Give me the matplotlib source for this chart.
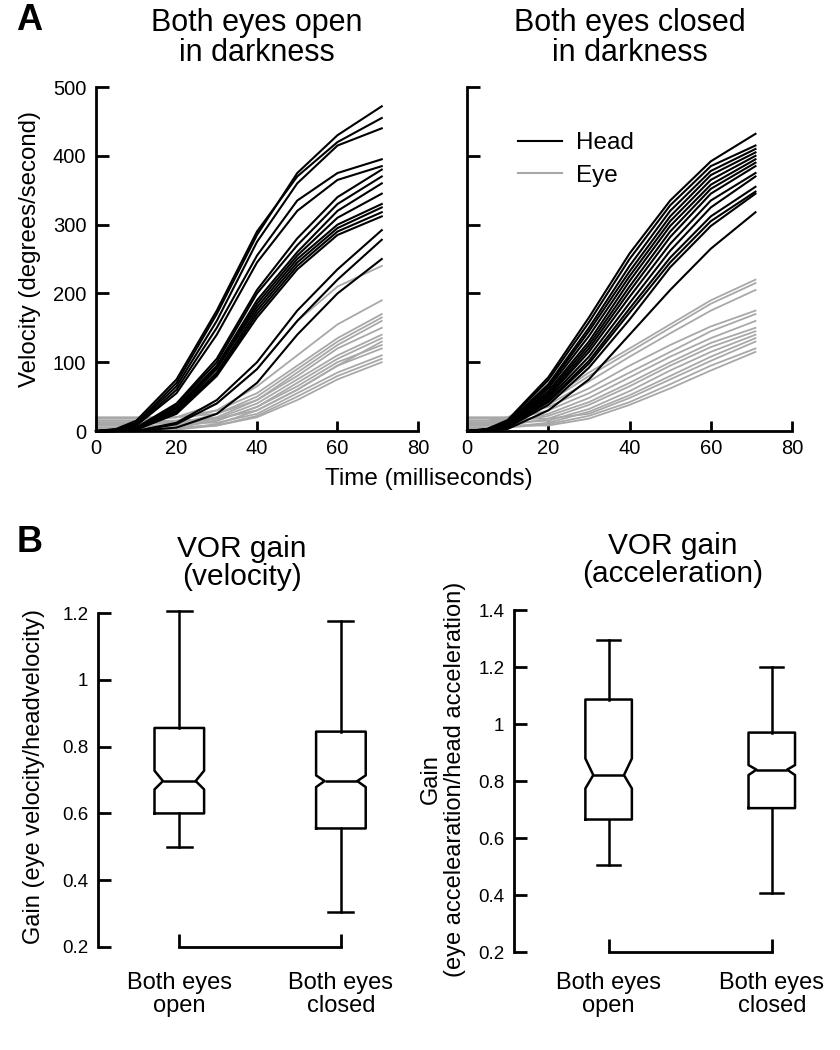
import numpy as np
import matplotlib.pyplot as plt

plt.rcParams['font.family'] = ['Liberation Sans', 'DejaVu Sans']

# time samples (ms)
t_ms = [0, 5, 10, 20, 30, 40, 50, 60, 71]

# head velocity traces, eyes open (deg/s)
head_open = [
    [0, 2, 12, 70, 170, 285, 375, 430, 472],
    [0, 3, 15, 75, 175, 290, 370, 420, 455],
    [0, 2, 10, 65, 160, 275, 360, 415, 440],
    [0, 1, 8, 60, 150, 255, 335, 375, 395],
    [0, 1, 8, 55, 140, 245, 320, 365, 385],
    [0, 0, 5, 40, 105, 205, 280, 340, 380],
    [0, 0, 4, 38, 100, 200, 270, 330, 370],
    [0, 0, 4, 35, 95, 190, 260, 320, 360],
    [0, 0, 3, 33, 92, 185, 255, 310, 345],
    [0, 0, 3, 30, 90, 180, 250, 300, 330],
    [0, 0, 2, 28, 85, 175, 245, 295, 325],
    [0, 0, 2, 27, 82, 170, 240, 290, 318],
    [0, 0, 2, 25, 80, 165, 235, 285, 312],
    [0, 0, 0, 12, 45, 100, 175, 235, 292],
    [0, 0, 0, 10, 40, 90, 160, 220, 278],
    [0, 0, 0, 5, 25, 70, 140, 200, 250],
]

# eye velocity traces, eyes open
eye_open = [
    [15, 15, 15, 20, 40, 90, 160, 210, 240],
    [10, 10, 12, 15, 30, 65, 110, 155, 190],
    [18, 18, 18, 20, 30, 55, 95, 135, 170],
    [5, 5, 5, 10, 25, 50, 90, 130, 165],
    [10, 10, 10, 12, 20, 45, 85, 125, 160],
    [20, 20, 20, 20, 25, 45, 80, 120, 150],
    [5, 5, 5, 8, 18, 40, 75, 110, 140],
    [2, 2, 3, 5, 15, 35, 70, 105, 135],
    [8, 8, 8, 8, 15, 35, 65, 100, 125],
    [0, 0, 0, 3, 10, 30, 60, 95, 120],
    [12, 12, 12, 12, 12, 25, 55, 85, 110],
    [0, 0, 0, 2, 8, 22, 50, 80, 105],
    [5, 5, 5, 5, 8, 20, 45, 75, 100],
    [15, 15, 15, 15, 18, 30, 60, 95, 130],
]

# head velocity traces, eyes closed
head_closed = [
    [0, 3, 16, 78, 165, 258, 335, 392, 432],
    [0, 3, 14, 74, 158, 250, 328, 385, 415],
    [0, 2, 12, 68, 150, 240, 320, 378, 410],
    [0, 2, 12, 65, 145, 232, 312, 372, 405],
    [0, 2, 10, 62, 138, 225, 305, 365, 400],
    [0, 2, 10, 58, 130, 218, 298, 358, 395],
    [0, 1, 9, 55, 125, 210, 290, 352, 390],
    [0, 1, 8, 52, 120, 203, 282, 345, 385],
    [0, 1, 8, 50, 115, 195, 272, 335, 375],
    [0, 1, 7, 47, 108, 186, 262, 325, 370],
    [0, 1, 6, 44, 102, 178, 252, 312, 355],
    [0, 1, 6, 42, 98, 172, 245, 305, 348],
    [0, 0, 5, 38, 92, 162, 238, 298, 345],
    [0, 0, 3, 30, 75, 140, 205, 265, 318],
]

# eye velocity traces, eyes closed
eye_closed = [
    [15, 15, 20, 45, 85, 120, 155, 190, 220],
    [10, 12, 18, 42, 80, 115, 150, 185, 215],
    [12, 12, 15, 38, 72, 108, 142, 175, 205],
    [20, 20, 20, 35, 62, 95, 125, 152, 175],
    [15, 15, 15, 30, 55, 85, 115, 145, 170],
    [8, 8, 10, 25, 48, 78, 108, 135, 160],
    [10, 10, 12, 22, 42, 70, 100, 128, 150],
    [5, 5, 8, 18, 38, 65, 95, 122, 145],
    [12, 12, 12, 15, 32, 58, 88, 115, 140],
    [5, 5, 6, 12, 28, 52, 80, 108, 135],
    [18, 18, 18, 18, 25, 48, 75, 102, 130],
    [3, 3, 5, 10, 22, 42, 68, 95, 120],
    [8, 8, 8, 8, 18, 38, 62, 88, 115],
]

# box plot summaries: [eyes open, eyes closed]
conditions = ['Both eyes\nopen', 'Both eyes\nclosed']
vel_whislo = [0.50, 0.305]
vel_q1 = [0.60, 0.555]
vel_med = [0.697, 0.697]
vel_q3 = [0.856, 0.845]
vel_whishi = [1.205, 1.175]
vel_cilo = [0.672, 0.679]
vel_cihi = [0.728, 0.714]

acc_whislo = [0.504, 0.408]
acc_q1 = [0.665, 0.705]
acc_med = [0.821, 0.840]
acc_q3 = [1.086, 0.970]
acc_whishi = [1.295, 1.201]
acc_cilo = [0.774, 0.821]
acc_cihi = [0.879, 0.856]

gray = '#a8a8a8'
lw_ax = 2.0

fig = plt.figure(figsize=(8.4, 10.5), dpi=100)

def style_axes(ax, lsize):
    for s in ['top', 'right']:
        ax.spines[s].set_visible(False)
    for s in ['left', 'bottom']:
        ax.spines[s].set_linewidth(lw_ax)
    ax.tick_params(direction='in', width=lw_ax, labelsize=lsize, pad=7)

############# A: velocity traces #########################
axA1 = fig.add_axes([0.1143, 0.5895, 0.3833, 0.3276])
axA2 = fig.add_axes([0.5560, 0.5895, 0.3869, 0.3276])

for ax, heads, eyes, title in [(axA1, head_open, eye_open, 'Both eyes open\nin darkness'),
                               (axA2, head_closed, eye_closed, 'Both eyes closed\nin darkness')]:
    for e in eyes:
        ax.plot(t_ms, e, color=gray, lw=1.3, clip_on=False)
    for h in heads:
        ax.plot(t_ms, h, color='black', lw=1.5, clip_on=False)
    style_axes(ax, 14.5)
    ax.set_xlim(0, 80)
    ax.set_ylim(0, 500)
    ax.set_xticks([0, 20, 40, 60, 80])
    ax.set_yticks([0, 100, 200, 300, 400, 500])
    ax.tick_params(axis='y', length=9.5)
    ax.tick_params(axis='x', length=7.5, pad=6)
    ax.set_title(title, fontsize=22, pad=19, linespacing=1.0)

axA2.set_yticklabels([])

axA2.plot([], [], color='black', lw=1.5, label='Head')
axA2.plot([], [], color=gray, lw=1.5, label='Eye')
axA2.legend(loc='upper left', bbox_to_anchor=(0.157, 0.868), frameon=False,
            fontsize=17.5, handlelength=1.8, handletextpad=0.6, labelspacing=0.42,
            borderpad=0, borderaxespad=0)

fig.text(0.036, 0.763, 'Velocity (degrees/second)', rotation=90, ha='center',
         va='center', fontsize=17.3)
fig.text(0.510, 0.5385, 'Time (milliseconds)', ha='center', va='baseline', fontsize=17.5)
fig.text(0.019, 0.971, 'A', fontsize=26, fontweight='bold', va='baseline')

############# B: VOR gain boxes #########################
def make_stats(whislo, q1, med, q3, whishi, cilo, cihi):
    stats = []
    for i in range(len(med)):
        stats.append(dict(whislo=whislo[i], q1=q1[i], med=med[i], q3=q3[i],
                          whishi=whishi[i], cilo=cilo[i], cihi=cihi[i], fliers=[]))
    return stats

axB1 = fig.add_axes([0.1167, 0.0981, 0.343, 0.318])
axB2 = fig.add_axes([0.6119, 0.0933, 0.3768, 0.3257])

box_specs = [
    (axB1, make_stats(vel_whislo, vel_q1, vel_med, vel_q3, vel_whishi, vel_cilo, vel_cihi),
     (0.497, 2.28), (0.2, 1.2), [0.2, 0.4, 0.6, 0.8, 1.0, 1.2],
     ['0.2', '0.4', '0.6', '0.8', '1', '1.2'], 'VOR gain\n(velocity)', 0.307, 18),
    (axB2, make_stats(acc_whislo, acc_q1, acc_med, acc_q3, acc_whishi, acc_cilo, acc_cihi),
     (0.42, 2.36), (0.2, 1.4), [0.2, 0.4, 0.6, 0.8, 1.0, 1.2, 1.4],
     ['0.2', '0.4', '0.6', '0.8', '1', '1.2', '1.4'], 'VOR gain\n(acceleration)', 0.285, 14.5),
]

for ax, stats, xl, yl, yt, ytl, title, wid, xpad in box_specs:
    lp = dict(color='black', linewidth=1.8)
    bp = ax.bxp(stats, positions=[1, 2], widths=wid, shownotches=True, showfliers=False,
                boxprops=lp, whiskerprops=lp, capprops=lp, medianprops=lp)
    # notch a bit shallower than the matplotlib default
    for pos, box, med in zip([1, 2], bp['boxes'], bp['medians']):
        xs = list(box.get_xdata())
        xs[3] = pos + wid * 0.33
        xs[8] = pos - wid * 0.33
        box.set_xdata(xs)
        med.set_xdata([pos - wid * 0.33, pos + wid * 0.33])
    for art in ax.lines:
        art.set_clip_on(False)
    style_axes(ax, 13.5)
    ax.set_xlim(*xl)
    ax.set_ylim(*yl)
    ax.spines['bottom'].set_bounds(1, 2)
    ax.set_xticks([1, 2])
    ax.set_xticklabels(conditions, fontsize=17, linespacing=1.05)
    ax.tick_params(axis='x', length=9.5, pad=xpad)
    ax.set_yticks(yt)
    ax.set_yticklabels(ytl)
    ax.tick_params(axis='y', length=9.5)
    ax.set_title(title, fontsize=21.5, pad=20, linespacing=1.0)

fig.text(0.040, 0.26, 'Gain (eye velocity/headvelocity)', rotation=90, ha='center',
         va='center', fontsize=17)
fig.text(0.527, 0.258, 'Gain\n(eye accelearation/head acceleration)', rotation=90,
         ha='center', va='center', fontsize=17, linespacing=1.15)
fig.text(0.020, 0.474, 'B', fontsize=26, fontweight='bold', va='baseline')

plt.savefig('out.png', dpi=100)
